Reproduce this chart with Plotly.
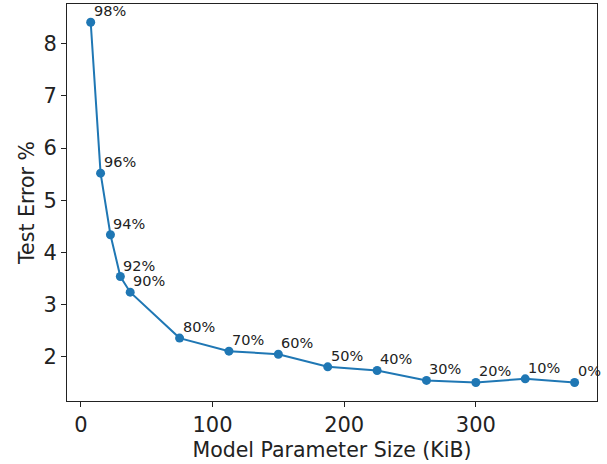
import plotly.graph_objects as go

# Data
param_size_kib = [7.5, 15, 22.5, 30, 37.5, 75, 112.5, 150, 187.5, 225, 262.5, 300, 337.5, 375]
test_error = [8.41, 5.52, 4.34, 3.54, 3.24, 2.36, 2.11, 2.05, 1.81, 1.74, 1.55, 1.51, 1.58, 1.51]
sparsity_labels = ["98%", "96%", "94%", "92%", "90%", "80%", "70%", "60%", "50%",
                   "40%", "30%", "20%", "10%", "0%"]

x_ticks = [0, 100, 200, 300]
y_ticks = [2, 3, 4, 5, 6, 7, 8]

FONT = "DejaVu Sans"
COLOR = "#1f77b4"

fig = go.Figure()
fig.add_trace(go.Scatter(
    x=param_size_kib, y=test_error, mode="lines+markers",
    line=dict(color=COLOR, width=2),
    marker=dict(color=COLOR, size=9),
    showlegend=False, hoverinfo="skip", cliponaxis=False,
))

for xv, yv, lab in zip(param_size_kib, test_error, sparsity_labels):
    fig.add_annotation(
        x=xv, y=yv, xref="x", yref="y", text=lab, showarrow=False,
        xanchor="left", yanchor="bottom", xshift=1, yshift=1,
        font=dict(family=FONT, size=14.5, color="#222222"),
    )

axis_common = dict(
    showline=True, linecolor="#222222", linewidth=1, mirror=True,
    ticks="outside", ticklen=5, tickwidth=1, tickcolor="#222222",
    showgrid=False, zeroline=False, automargin=False,
    tickfont=dict(family=FONT, size=21, color="#222222"),
)

fig.update_layout(
    width=607, height=464,
    margin=dict(l=67, r=10, t=4, b=63),
    paper_bgcolor="white", plot_bgcolor="white",
    font=dict(family=FONT, color="#222222"),
    xaxis=dict(
        range=[-10.5, 392], tickvals=x_ticks,
        title=dict(text="Model Parameter Size (KiB)", font=dict(family=FONT, size=20.5), standoff=6),
        **axis_common,
    ),
    yaxis=dict(
        range=[1.155, 8.76], tickvals=y_ticks,
        title=dict(text="Test Error %", font=dict(family=FONT, size=20.5), standoff=3),
        **axis_common,
    ),
)

fig.write_html("out.html", config={"displayModeBar": False},
               post_script="document.body.style.margin='0';")
